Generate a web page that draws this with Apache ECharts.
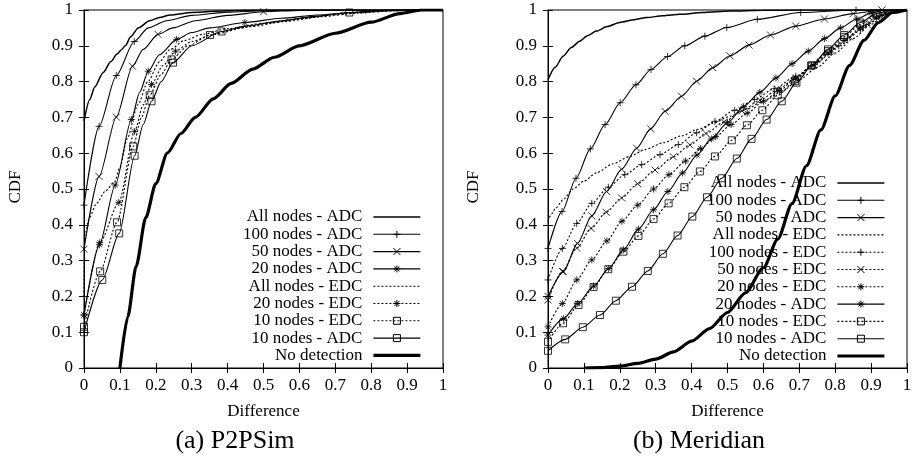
<!DOCTYPE html>
<html><head><meta charset="utf-8">
<script src="https://cdn.jsdelivr.net/npm/echarts@6/dist/echarts.min.js"></script>
<style>html,body{margin:0;padding:0;background:#fff}#c{width:918px;height:461px}</style>
</head><body><div id="c"></div>
<script>
// ---------- tick labels ----------
const xTickLabels = ['0','0.1','0.2','0.3','0.4','0.5','0.6','0.7','0.8','0.9','1'];
const yTickLabels = ['0','0.1','0.2','0.3','0.4','0.5','0.6','0.7','0.8','0.9','1'];
const panelCaptions = ['(a) P2PSim', '(b) Meridian'];
const xName = 'Difference';
const yName = 'CDF';

// ---------- panel (a) P2PSim ----------
const A_allADC = [[0,0.69],[0.016,0.75],[0.03,0.785],[0.053,0.825],[0.075,0.856],[0.092,0.877],[0.105,0.89],[0.115,0.9],[0.13,0.925],[0.151,0.95],[0.183,0.97],[0.21,0.979],[0.24,0.986],[0.3,0.993],[0.4,0.998],[0.5,1],[1,1]];
const A_100ADC = [[0,0.455],[0.042,0.675],[0.09,0.817],[0.14,0.912],[0.179,0.95],[0.23,0.97],[0.3,0.985],[0.4,0.994],[0.5,0.998],[0.6,1],[1,1]];
const A_100ADC_marks = [[0,0.455],[0.042,0.675],[0.09,0.817],[0.14,0.912]];
const A_50ADC = [[0,0.332],[0.042,0.535],[0.09,0.701],[0.135,0.843],[0.165,0.89],[0.206,0.932],[0.248,0.95],[0.31,0.97],[0.4,0.985],[0.5,0.995],[0.6,0.999],[0.7,1],[1,1]];
const A_50ADC_marks = [[0,0.332],[0.042,0.535],[0.09,0.701],[0.135,0.843],[0.206,0.932],[0.5,0.995]];
const A_20ADC = [[0,0.148],[0.043,0.344],[0.087,0.511],[0.132,0.694],[0.155,0.77],[0.179,0.829],[0.21,0.875],[0.258,0.918],[0.3,0.937],[0.35,0.95],[0.448,0.965],[0.55,0.977],[0.65,0.986],[0.75,0.993],[0.85,0.998],[0.95,1],[1,1]];
const A_20ADC_marks = [[0,0.148],[0.043,0.344],[0.087,0.511],[0.132,0.694],[0.179,0.829],[0.258,0.918],[0.448,0.965]];
const A_allEDC = [[0,0.2],[0.002,0.37],[0.015,0.42],[0.035,0.46],[0.06,0.495],[0.085,0.52],[0.1,0.56],[0.12,0.64],[0.15,0.735],[0.178,0.8],[0.21,0.855],[0.24,0.89],[0.28,0.915],[0.33,0.932],[0.4,0.948],[0.5,0.963],[0.6,0.976],[0.7,0.987],[0.8,0.995],[0.9,1],[1,1]];
const A_20EDC = [[0,0.148],[0.044,0.35],[0.097,0.462],[0.141,0.661],[0.165,0.735],[0.188,0.792],[0.22,0.845],[0.255,0.885],[0.3,0.912],[0.36,0.932],[0.46,0.953],[0.56,0.968],[0.66,0.981],[0.76,0.991],[0.86,0.998],[0.95,1],[1,1]];
const A_20EDC_marks = [[0,0.148],[0.044,0.35],[0.097,0.462],[0.141,0.661],[0.188,0.792],[0.255,0.885]];
const A_10EDC = [[0,0.115],[0.045,0.27],[0.092,0.407],[0.137,0.619],[0.16,0.7],[0.183,0.762],[0.215,0.82],[0.244,0.862],[0.29,0.9],[0.351,0.93],[0.42,0.948],[0.52,0.964],[0.62,0.978],[0.739,0.993],[0.85,1],[1,1]];
const A_10EDC_marks = [[0,0.115],[0.045,0.27],[0.092,0.407],[0.137,0.619],[0.183,0.762],[0.244,0.862],[0.351,0.93],[0.739,0.993]];
const A_10ADC = [[0,0.1],[0.051,0.246],[0.098,0.376],[0.141,0.593],[0.165,0.68],[0.188,0.745],[0.215,0.8],[0.248,0.853],[0.3,0.9],[0.383,0.94],[0.45,0.955],[0.55,0.97],[0.65,0.983],[0.739,0.993],[0.85,1],[1,1]];
const A_10ADC_marks = [[0,0.1],[0.051,0.246],[0.098,0.376],[0.141,0.593],[0.188,0.745],[0.248,0.853],[0.383,0.94]];
const A_noDet = [[0.1,0],[0.122,0.143],[0.145,0.283],[0.172,0.42],[0.2,0.515],[0.232,0.6],[0.27,0.655],[0.31,0.7],[0.36,0.752],[0.41,0.795],[0.47,0.835],[0.53,0.868],[0.6,0.9],[0.7,0.935],[0.8,0.966],[0.88,0.99],[0.94,1],[1,1]];

// ---------- panel (b) Meridian ----------
const B_allADC = [[0,0.805],[0.02,0.84],[0.042,0.871],[0.065,0.895],[0.088,0.913],[0.11,0.928],[0.135,0.941],[0.165,0.954],[0.2,0.965],[0.24,0.973],[0.275,0.979],[0.32,0.984],[0.367,0.988],[0.43,0.993],[0.507,0.997],[0.6,0.999],[0.7,1],[1,1]];
const B_100ADC_marks = [[0,0.334],[0.039,0.437],[0.078,0.53],[0.118,0.612],[0.159,0.68],[0.201,0.741],[0.245,0.791],[0.287,0.834],[0.333,0.87],[0.381,0.9],[0.437,0.927],[0.498,0.951],[0.583,0.974],[0.704,0.993],[0.858,1]];
const B_50ADC_marks = [[0,0.2],[0.043,0.269],[0.082,0.348],[0.122,0.425],[0.163,0.493],[0.205,0.555],[0.247,0.614],[0.286,0.668],[0.326,0.717],[0.372,0.759],[0.414,0.801],[0.459,0.839],[0.507,0.872],[0.56,0.902],[0.62,0.93],[0.69,0.955],[0.77,0.975],[0.85,0.99],[0.93,1]];
const B_allEDC = [[0,0.41],[0.01,0.43],[0.02,0.445],[0.042,0.47],[0.07,0.5],[0.1,0.522],[0.135,0.545],[0.18,0.57],[0.228,0.591],[0.27,0.61],[0.321,0.629],[0.37,0.648],[0.42,0.667],[0.46,0.684],[0.507,0.703],[0.55,0.722],[0.6,0.745],[0.65,0.772],[0.7,0.805],[0.75,0.84],[0.8,0.88],[0.85,0.92],[0.9,0.96],[0.94,0.99],[0.97,1],[1,1]];
const B_100EDC_marks = [[0,0.246],[0.04,0.334],[0.08,0.404],[0.122,0.46],[0.168,0.505],[0.214,0.54],[0.261,0.568],[0.312,0.596],[0.363,0.624],[0.414,0.657],[0.465,0.689],[0.52,0.72],[0.575,0.75],[0.63,0.78],[0.69,0.815],[0.75,0.855],[0.81,0.9],[0.87,0.945],[0.93,0.985]];
const B_50EDC_marks = [[0,0.19],[0.04,0.27],[0.08,0.335],[0.12,0.39],[0.162,0.435],[0.205,0.475],[0.25,0.515],[0.298,0.553],[0.349,0.59],[0.395,0.623],[0.44,0.655],[0.49,0.687],[0.54,0.718],[0.59,0.748],[0.64,0.778],[0.69,0.81],[0.74,0.845],[0.79,0.885],[0.84,0.925],[0.89,0.96],[0.94,0.99]];
const B_20EDC_marks = [[0,0.115],[0.04,0.18],[0.08,0.246],[0.122,0.302],[0.164,0.355],[0.206,0.41],[0.25,0.455],[0.294,0.5],[0.337,0.54],[0.383,0.578],[0.425,0.613],[0.467,0.646],[0.51,0.68],[0.555,0.712],[0.6,0.745],[0.645,0.775],[0.69,0.81],[0.735,0.845],[0.78,0.88],[0.825,0.915],[0.87,0.95],[0.915,0.98]];
const B_20ADC_marks = [[0,0.092],[0.043,0.138],[0.083,0.18],[0.127,0.229],[0.169,0.278],[0.21,0.33],[0.252,0.388],[0.294,0.442],[0.334,0.493],[0.375,0.545],[0.415,0.595],[0.455,0.64],[0.5,0.685],[0.545,0.73],[0.59,0.77],[0.635,0.81],[0.68,0.85],[0.725,0.885],[0.77,0.92],[0.815,0.95],[0.86,0.975],[0.9,0.992]];
const B_10EDC_marks = [[0,0.073],[0.042,0.125],[0.085,0.176],[0.127,0.226],[0.168,0.276],[0.21,0.325],[0.252,0.369],[0.294,0.416],[0.336,0.46],[0.38,0.505],[0.423,0.549],[0.465,0.591],[0.512,0.636],[0.554,0.678],[0.597,0.72],[0.64,0.762],[0.688,0.801],[0.733,0.845],[0.78,0.885],[0.825,0.925],[0.87,0.96],[0.915,0.985]];
const B_10ADC_marks = [[0,0.048],[0.048,0.08],[0.097,0.114],[0.145,0.148],[0.189,0.188],[0.234,0.227],[0.278,0.271],[0.32,0.319],[0.361,0.37],[0.402,0.423],[0.443,0.477],[0.484,0.53],[0.526,0.585],[0.567,0.64],[0.609,0.694],[0.651,0.745],[0.692,0.797],[0.735,0.845],[0.78,0.89],[0.825,0.93],[0.87,0.965],[0.915,0.99]];
const B_tail96 = [[0.96,1],[1,1]];
const B_noDet = [[0.1,0],[0.15,0.001],[0.2,0.005],[0.25,0.013],[0.3,0.025],[0.35,0.045],[0.4,0.075],[0.45,0.11],[0.5,0.155],[0.55,0.21],[0.6,0.28],[0.64,0.36],[0.68,0.46],[0.72,0.565],[0.76,0.665],[0.8,0.76],[0.84,0.845],[0.88,0.915],[0.92,0.965],[0.96,0.993],[1,1]];

// ---------- curve lists (name, line points, marker points) ----------
const panelA = [
  ['All nodes - ADC', A_allADC, []],
  ['100 nodes - ADC', A_100ADC, A_100ADC_marks],
  ['50 nodes - ADC', A_50ADC, A_50ADC_marks],
  ['20 nodes - ADC', A_20ADC, A_20ADC_marks],
  ['All nodes - EDC', A_allEDC, []],
  ['20 nodes - EDC', A_20EDC, A_20EDC_marks],
  ['10 nodes - EDC', A_10EDC, A_10EDC_marks],
  ['10 nodes - ADC', A_10ADC, A_10ADC_marks],
  ['No detection', A_noDet, []]
];
const panelB = [
  ['All nodes - ADC', B_allADC, []],
  ['100 nodes - ADC', B_100ADC_marks.concat([[1,1]]), B_100ADC_marks],
  ['50 nodes - ADC', B_50ADC_marks.concat([[1,1]]), B_50ADC_marks],
  ['All nodes - EDC', B_allEDC, []],
  ['100 nodes - EDC', B_100EDC_marks.concat([[0.97,1],[1,1]]), B_100EDC_marks],
  ['50 nodes - EDC', B_50EDC_marks.concat([[0.97,1],[1,1]]), B_50EDC_marks],
  ['20 nodes - EDC', B_20EDC_marks.concat(B_tail96), B_20EDC_marks],
  ['20 nodes - ADC', B_20ADC_marks.concat([[0.94,1],[1,1]]), B_20ADC_marks],
  ['10 nodes - EDC', B_10EDC_marks.concat(B_tail96), B_10EDC_marks],
  ['10 nodes - ADC', B_10ADC_marks.concat(B_tail96), B_10ADC_marks],
  ['No detection', B_noDet, []]
];

// ---------- styles ----------
const SYM = {
  plus: 'path://M0,3.5L7,3.5M3.5,0L3.5,7',
  cross: 'path://M0,0L7,7M7,0L0,7',
  star: 'path://M0,3.5L7,3.5M3.5,0L3.5,7M1,1L6,6M6,1L1,6',
  square: 'rect'
};
const DOT = [2, 2];
const STYLE = {
  'All nodes - ADC': {sym: null, dash: 'solid', w: 1.5},
  '100 nodes - ADC': {sym: 'plus', dash: 'solid', w: 1.1},
  '50 nodes - ADC': {sym: 'cross', dash: 'solid', w: 1.1},
  '20 nodes - ADC': {sym: 'star', dash: 'solid', w: 1.1},
  'All nodes - EDC': {sym: null, dash: DOT, w: 1.1},
  '100 nodes - EDC': {sym: 'plus', dash: DOT, w: 1.1},
  '50 nodes - EDC': {sym: 'cross', dash: DOT, w: 1.1},
  '20 nodes - EDC': {sym: 'star', dash: DOT, w: 1.1},
  '10 nodes - EDC': {sym: 'square', dash: DOT, w: 1.1},
  '10 nodes - ADC': {sym: 'square', dash: 'solid', w: 1.1},
  'No detection': {sym: null, dash: 'solid', w: 3.2}
};
const FONT = 'Liberation Serif';
const GRIDS = [{left: 84, top: 10, width: 359, height: 358}, {left: 548, top: 10, width: 359, height: 358}];

const series = [];
[panelA, panelB].forEach((panel, gi) => {
  panel.forEach(([name, pts, marks]) => {
    const st = STYLE[name];
    series.push({
      type: 'line', name, xAxisIndex: gi, yAxisIndex: gi, data: pts,
      showSymbol: false, symbol: st.sym ? SYM[st.sym] : 'none',
      smooth: 0.25, smoothMonotone: 'x', silent: true, animation: false, z: 3,
      lineStyle: {color: '#000', width: st.w, type: st.dash},
      itemStyle: {color: 'rgba(0,0,0,0)', borderColor: '#000', borderWidth: 1}
    });
    if (marks.length) {
      series.push({
        type: 'scatter', name, xAxisIndex: gi, yAxisIndex: gi, data: marks,
        symbol: SYM[st.sym], symbolSize: 7, silent: true, animation: false, z: 4,
        itemStyle: {color: 'rgba(0,0,0,0)', borderColor: '#000', borderWidth: 1}
      });
    }
  });
});

function legendData(panel) {
  return panel.map(([name]) => {
    const st = STYLE[name];
    const item = {name, lineStyle: {width: st.w}};
    if (!st.sym) item.itemStyle = {opacity: 0};
    return item;
  });
}
const legendCommon = {
  orient: 'vertical', align: 'right', padding: 0, itemGap: 0.3,
  itemWidth: 47, itemHeight: 8.75, selectedMode: false, z: 1,
  textStyle: {fontFamily: FONT, fontSize: 17, lineHeight: 17, color: '#000', padding: [0, 6, 0, 0]},
  itemStyle: {color: 'rgba(0,0,0,0)', borderColor: '#000', borderWidth: 1},
  lineStyle: {width: 1.1}
};

const xAxes = [], yAxes = [];
const lab = {color: '#000', fontFamily: FONT, fontSize: 17};
[0, 1].forEach(gi => {
  xAxes.push({type: 'value', gridIndex: gi, min: 0, max: 1, interval: 0.1, position: 'bottom',
    axisLine: {show: true, lineStyle: {color: '#000', width: 1}},
    axisTick: {show: true, inside: true, length: 5, lineStyle: {color: '#000'}},
    axisLabel: Object.assign({margin: 9, formatter: v => xTickLabels[Math.round(v * 10)]}, lab),
    splitLine: {show: false}});
  yAxes.push({type: 'value', gridIndex: gi, min: 0, max: 1, interval: 0.1, position: 'left',
    axisLine: {show: true, lineStyle: {color: '#000', width: 1}},
    axisTick: {show: true, inside: true, length: 5, lineStyle: {color: '#000'}},
    axisLabel: Object.assign({margin: 11, formatter: v => yTickLabels[Math.round(v * 10)]}, lab),
    splitLine: {show: false}});
});
[0, 1].forEach(gi => {
  xAxes.push({type: 'value', gridIndex: gi, min: 0, max: 1, interval: 0.1, position: 'top',
    axisLine: {show: false}, axisLabel: {show: false}, splitLine: {show: false},
    axisTick: {show: true, inside: true, length: 5, lineStyle: {color: '#000'}}});
  yAxes.push({type: 'value', gridIndex: gi, min: 0, max: 1, interval: 0.1, position: 'right',
    axisLine: {show: false}, axisLabel: {show: false}, splitLine: {show: false},
    axisTick: {show: true, inside: true, length: 5, lineStyle: {color: '#000'}}});
});

function txt(text, x, y, size, rot) {
  return {type: 'text', x, y, rotation: rot || 0, silent: true,
    style: {text, fontFamily: FONT, fontSize: size, fill: '#000', align: 'center', verticalAlign: 'middle'}};
}

const chart = echarts.init(document.getElementById('c'), null, {renderer: 'canvas'});
chart.setOption({
  animation: false,
  backgroundColor: '#fff',
  grid: GRIDS.map(g => Object.assign({show: true, borderColor: '#000', borderWidth: 1, backgroundColor: 'transparent'}, g)),
  xAxis: xAxes,
  yAxis: yAxes,
  legend: [
    Object.assign({right: 496, top: 208.5, data: legendData(panelA)}, legendCommon),
    Object.assign({right: 32, top: 174.5, data: legendData(panelB)}, legendCommon)
  ],
  graphic: [
    txt(yName, 16, 187, 17, Math.PI / 2),
    txt(yName, 474, 187, 17, Math.PI / 2),
    txt(xName, 263.5, 412, 17),
    txt(xName, 727.5, 412, 17),
    txt(panelCaptions[0], 235, 441.5, 26),
    txt(panelCaptions[1], 699, 441.5, 26)
  ],
  series
});
</script>
</body></html>
